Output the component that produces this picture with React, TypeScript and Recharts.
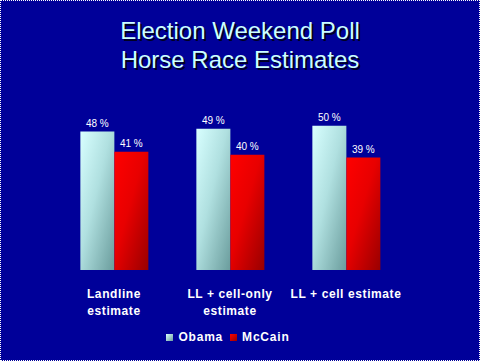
import React from 'react';
import { BarChart, Bar, XAxis, YAxis, LabelList } from 'recharts';

const categories = ['Landline\nestimate', 'LL + cell-only\nestimate', 'LL + cell estimate'];
const obama = [48, 49, 50];
const mccain = [41, 40, 39];

const data = categories.map((name, i) => ({ name, obama: obama[i], mccain: mccain[i] }));

const FONT = '"Liberation Sans", Arial, sans-serif';
const BG = '#000099';

const CategoryTick = (props: any) => {
  const { x, y, payload } = props;
  const lines = String(payload.value).split('\n');
  return (
    <g transform={`translate(${x},${y})`}>
      {lines.map((line, i) => (
        <text
          key={i}
          x={0}
          y={20 + i * 16.5}
          textAnchor="middle"
          fill="#ffffff"
          fontFamily={FONT}
          fontSize={12}
          fontWeight="bold"
          letterSpacing={0.6}
        >
          {line}
        </text>
      ))}
    </g>
  );
};

const pct = (v: any) => `${v} %`;

const App: React.FC = () => {
  return (
    <div
      style={{
        position: 'fixed',
        left: 0,
        top: 0,
        width: 480,
        height: 361,
        background: BG,
        boxSizing: 'border-box',
        border: '1px dotted #ffffff',
        fontFamily: FONT,
        overflow: 'hidden',
      }}
    >
      <div
        style={{
          position: 'absolute',
          left: 0,
          top: 15,
          width: 478,
          textAlign: 'center',
          color: '#ccffff',
          fontSize: 24,
          lineHeight: '29px',
          textShadow: '2px 2px 0 #000022',
        }}
      >
        Election Weekend Poll
        <br />
        Horse Race Estimates
      </div>
      <div style={{ position: 'absolute', left: -1, top: -1 }}>
        <BarChart
          width={480}
          height={361}
          data={data}
          margin={{ top: 97, right: 76, bottom: 0, left: 56 }}
          barCategoryGap="21%"
          barGap={0}
        >
          <defs>
            <linearGradient id="gradObama" x1="0" y1="0" x2="1" y2="1">
              <stop offset="0%" stopColor="#d8ffff" />
              <stop offset="45%" stopColor="#b0e0e0" />
              <stop offset="100%" stopColor="#6a9c9c" />
            </linearGradient>
            <linearGradient id="gradMcCain" x1="0" y1="0" x2="1" y2="1">
              <stop offset="0%" stopColor="#ff0000" />
              <stop offset="45%" stopColor="#e80000" />
              <stop offset="100%" stopColor="#990000" />
            </linearGradient>
          </defs>
          <XAxis
            dataKey="name"
            axisLine={false}
            tickLine={false}
            interval={0}
            height={91}
            tick={<CategoryTick />}
          />
          <YAxis hide domain={[0, 60]} />
          <Bar dataKey="obama" fill="url(#gradObama)" isAnimationActive={false}>
            <LabelList dataKey="obama" position="top" offset={5} fill="#ffffff" fontSize={10} fontFamily={FONT} formatter={pct} />
          </Bar>
          <Bar dataKey="mccain" fill="url(#gradMcCain)" isAnimationActive={false}>
            <LabelList dataKey="mccain" position="top" offset={5} fill="#ffffff" fontSize={10} fontFamily={FONT} formatter={pct} />
          </Bar>
        </BarChart>
      </div>
      <div
        style={{
          position: 'absolute',
          left: 0,
          top: 329,
          width: 478,
          display: 'flex',
          justifyContent: 'center',
          alignItems: 'center',
          color: '#ffffff',
          fontSize: 12,
          fontWeight: 'bold',
          letterSpacing: 0.8,
          paddingRight: 24,
          boxSizing: 'border-box',
        }}
      >
        <span style={{ width: 7, height: 7, background: 'linear-gradient(135deg,#d8ffff,#6a9c9c)', marginRight: 5 }} />
        <span style={{ marginRight: 7 }}>Obama</span>
        <span style={{ width: 7, height: 7, background: 'linear-gradient(135deg,#ff0000,#990000)', marginRight: 5 }} />
        <span>McCain</span>
      </div>
    </div>
  );
};

export default App;
